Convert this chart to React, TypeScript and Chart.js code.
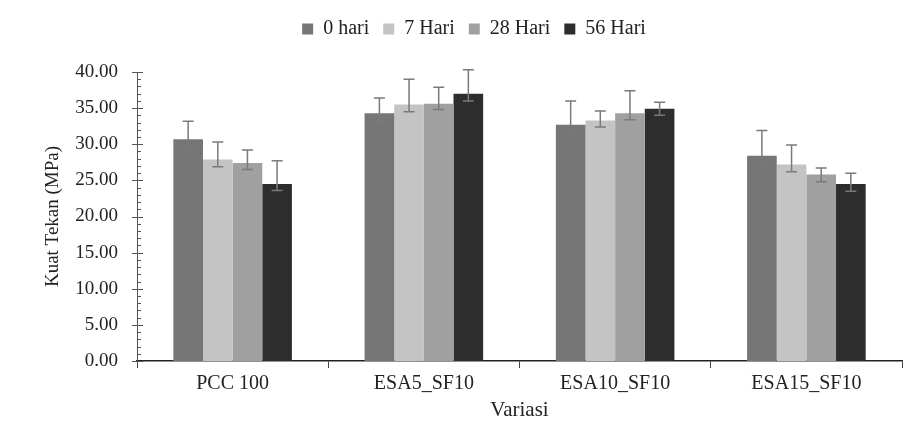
import React, { useEffect, useRef } from "react";
import { Chart, registerables } from "chart.js";

Chart.register(...registerables);

const categories = ["PCC 100", "ESA5_SF10", "ESA10_SF10", "ESA15_SF10"];
const seriesNames = ["0 hari", "7 Hari", "28 Hari", "56 Hari"];

const hari0 = [30.7, 34.3, 32.7, 28.4];
const hari7 = [27.9, 35.5, 33.3, 27.2];
const hari28 = [27.4, 35.6, 34.3, 25.8];
const hari56 = [24.5, 37.0, 34.9, 24.5];

const hari0Up = [2.5, 2.1, 3.3, 3.5];
const hari7Up = [2.4, 3.5, 1.3, 2.7];
const hari28Up = [1.8, 2.3, 3.1, 0.9];
const hari56Up = [3.2, 3.3, 0.9, 1.5];

const hari0Lo = [1.0, 1.0, 1.0, 1.0];
const hari7Lo = [1.0, 1.0, 0.9, 1.0];
const hari28Lo = [0.9, 0.8, 0.9, 1.0];
const hari56Lo = [0.9, 1.0, 0.9, 1.0];

const seriesValues = [hari0, hari7, hari28, hari56];
const seriesUp = [hari0Up, hari7Up, hari28Up, hari56Up];
const seriesLo = [hari0Lo, hari7Lo, hari28Lo, hari56Lo];
const seriesColors = ["#767676", "#c4c4c4", "#a0a0a0", "#2d2d2d"];

const yMin = 0;
const yMax = 40;
const yStep = 5;
const yMinorStep = 1;

const FONT = "'Liberation Serif', 'Times New Roman', serif";

const legendFit = {
  id: "legendFit",
  beforeInit(chart: any) {
    const lg = chart.legend;
    if (!lg) return;
    const orig = lg.fit;
    lg.fit = function () {
      orig.call(this);
      this.height = 67;
    };
  },
};

const errorBars = {
  id: "errorBars",
  afterDatasetsDraw(chart: any) {
    const ctx = chart.ctx;
    const y = chart.scales.y;
    ctx.save();
    ctx.strokeStyle = "#7a7a7a";
    ctx.lineWidth = 1.5;
    chart.data.datasets.forEach((ds: any, i: number) => {
      const meta = chart.getDatasetMeta(i);
      meta.data.forEach((bar: any, j: number) => {
        const v = seriesValues[i][j];
        const top = y.getPixelForValue(v + seriesUp[i][j]);
        const bot = y.getPixelForValue(v - seriesLo[i][j]);
        const x = bar.x;
        const cap = 5.5;
        ctx.beginPath();
        ctx.moveTo(x, top);
        ctx.lineTo(x, bot);
        ctx.moveTo(x - cap, top);
        ctx.lineTo(x + cap, top);
        ctx.moveTo(x - cap, bot);
        ctx.lineTo(x + cap, bot);
        ctx.stroke();
      });
    });
    ctx.restore();
  },
};

const yTicks = {
  id: "yTicks",
  afterDraw(chart: any) {
    const ctx = chart.ctx;
    const y = chart.scales.y;
    const x0 = chart.chartArea.left;
    ctx.save();
    ctx.strokeStyle = "#555";
    ctx.lineWidth = 1;
    for (let v = yMin; v <= yMax; v += yMinorStep) {
      const py = Math.round(y.getPixelForValue(v)) + 0.5;
      const major = v % yStep === 0;
      ctx.beginPath();
      ctx.moveTo(major ? x0 - 5 : x0, py);
      ctx.lineTo(major ? x0 + 6 : x0 + 4, py);
      ctx.stroke();
    }
    ctx.restore();
  },
};

export default function App() {
  const ref = useRef<HTMLCanvasElement | null>(null);

  useEffect(() => {
    document.body.style.margin = "0";
    if (!ref.current) return;
    const chart = new Chart(ref.current, {
      type: "bar",
      data: {
        labels: categories,
        datasets: seriesNames.map((name, i) => ({
          label: name,
          data: seriesValues[i],
          backgroundColor: seriesColors[i],
          borderWidth: 0,
          barPercentage: 1,
          categoryPercentage: 0.62,
        })),
      },
      options: {
        responsive: false,
        animation: false,
        devicePixelRatio: 1,
        layout: { padding: { top: 5, left: 46, right: 18, bottom: 0 } },
        plugins: {
          legend: {
            position: "top",
            labels: {
              font: { family: FONT, size: 20 },
              color: "#222",
              boxWidth: 11,
              boxHeight: 11,
              padding: 14,
            },
          },
          tooltip: { enabled: false },
        },
        scales: {
          x: {
            afterFit: (s: any) => {
              s.height = 67;
            },
            grid: {
              display: true,
              drawOnChartArea: false,
              drawTicks: true,
              tickLength: 7,
              offset: true,
              color: "#444",
              lineWidth: 1,
            },
            border: { display: true, color: "#222", width: 1.5 },
            ticks: {
              font: { family: FONT, size: 20 },
              color: "#222",
              padding: 4,
              maxRotation: 0,
            },
            title: {
              display: true,
              text: "Variasi",
              font: { family: FONT, size: 21 },
              color: "#222",
              padding: { top: 4, bottom: 5 },
            },
          },
          y: {
            min: yMin,
            max: yMax,
            afterFit: (s: any) => {
              s.width = 91;
            },
            grid: { display: false, drawTicks: false },
            border: { display: true, color: "#555", width: 1 },
            ticks: {
              stepSize: yStep,
              font: { family: FONT, size: 19 },
              color: "#222",
              padding: 19,
              callback: (v: any) => Number(v).toFixed(2),
            },
            title: {
              display: true,
              text: "Kuat Tekan (MPa)",
              font: { family: FONT, size: 19 },
              color: "#222",
              padding: { top: -4, bottom: 0 },
            },
          },
        },
      },
      plugins: [legendFit, errorBars, yTicks],
    });
    return () => chart.destroy();
  }, []);

  return (
    <div style={{ width: 920, height: 428 }}>
      <canvas ref={ref} width={920} height={428} />
    </div>
  );
}
